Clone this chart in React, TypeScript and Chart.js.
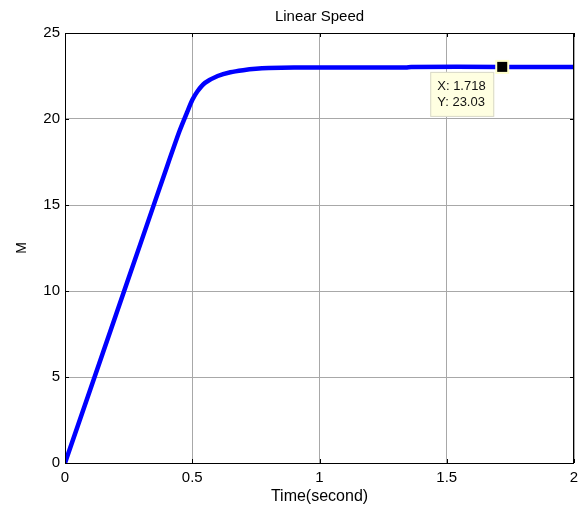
import React, { useEffect, useRef } from "react";
import { Chart, registerables } from "chart.js";

Chart.register(...registerables);

const timeValues = [0, 0.1, 0.2, 0.3, 0.4, 0.45, 0.48, 0.5, 0.52, 0.55, 0.6, 0.65, 0.7, 0.75, 0.8, 0.9, 1.0, 1.2, 1.34, 1.36, 1.718, 2.0];
const speedValues = [0, 4.3, 8.6, 12.9, 17.2, 19.3, 20.4, 21.1, 21.6, 22.1, 22.5, 22.72, 22.84, 22.92, 22.96, 22.99, 23.0, 23.0, 23.0, 23.03, 23.03, 23.03];
const dataTipX = 1.718;
const dataTipY = 23.03;
const xTicks = [0, 0.5, 1, 1.5, 2];
const yTicks = [0, 5, 10, 15, 20, 25];
const chartTitle = "Linear Speed";

const FONT = "'Liberation Sans', Arial, sans-serif";

const boxPlugin = {
  id: "matlabBox",
  afterDatasetsDraw(chart: any) {
    const { ctx, chartArea: a, scales } = chart;
    ctx.save();
    ctx.strokeStyle = "#000";
    ctx.lineWidth = 1;
    ctx.strokeRect(a.left + 0.5, a.top + 0.5, a.right - a.left - 1, a.bottom - a.top);
    ctx.beginPath();
    for (const t of xTicks) {
      const x = Math.round(scales.x.getPixelForValue(t)) + 0.5;
      ctx.moveTo(x, a.bottom); ctx.lineTo(x, a.bottom - 4);
      ctx.moveTo(x, a.top); ctx.lineTo(x, a.top + 4);
    }
    for (const t of yTicks) {
      const y = Math.round(scales.y.getPixelForValue(t)) + 0.5;
      ctx.moveTo(a.left, y); ctx.lineTo(a.left + 4, y);
      ctx.moveTo(a.right, y); ctx.lineTo(a.right - 4, y);
    }
    ctx.stroke();
    ctx.restore();
  },
  afterDraw(chart: any) {
    const { ctx, scales, chartArea: a } = chart;
    ctx.save();
    // title centred over the axes
    ctx.fillStyle = "#000";
    ctx.font = `15px ${FONT}`;
    ctx.textAlign = "center";
    ctx.textBaseline = "middle";
    ctx.fillText(chartTitle, (a.left + a.right) / 2, 17);

    const px = scales.x.getPixelForValue(dataTipX);
    const py = scales.y.getPixelForValue(dataTipY);
    const bx = px - 72;
    const by = py + 5;
    const bw = 64;
    const bh = 45;
    ctx.fillStyle = "#ffffe1";
    ctx.strokeStyle = "#d8d8c8";
    ctx.lineWidth = 1;
    ctx.fillRect(bx, by, bw, bh);
    ctx.strokeRect(bx + 0.5, by + 0.5, bw - 1, bh - 1);
    ctx.fillStyle = "#111";
    ctx.font = `13px ${FONT}`;
    ctx.textBaseline = "middle";
    ctx.textAlign = "left";
    ctx.fillText(`X: ${dataTipX}`, bx + 7, by + 15);
    ctx.fillText(`Y: ${dataTipY}`, bx + 7, by + 31);
    ctx.fillStyle = "#ffffcc";
    ctx.fillRect(px - 7, py - 7, 14, 14);
    ctx.fillStyle = "#000";
    ctx.fillRect(px - 5, py - 5, 10, 10);
    ctx.restore();
  },
};

export default function App() {
  const ref = useRef<HTMLCanvasElement>(null);
  useEffect(() => {
    document.body.style.margin = "0";
    const chart = new Chart(ref.current!, {
      type: "line",
      data: {
        datasets: [
          {
            data: timeValues.map((t, i) => ({ x: t, y: speedValues[i] })),
            borderColor: "#0000ff",
            borderWidth: 4.5,
            pointRadius: 0,
            tension: 0.2,
            fill: false,
          },
        ],
      },
      options: {
        animation: false,
        responsive: false,
        layout: { padding: { left: 0, right: 12, top: 33, bottom: 0 } },
        plugins: {
          legend: { display: false },
          tooltip: { enabled: false },
          title: { display: false },
        },
        scales: {
          x: {
            type: "linear",
            min: 0,
            max: 2,
            afterBuildTicks: (s: any) => { s.ticks = xTicks.map((v) => ({ value: v })); },
            afterFit: (s: any) => { s.height = 48; },
            grid: { color: "#a8a8a8", drawTicks: false, lineWidth: 1 },
            border: { display: false },
            ticks: {
              color: "#000",
              padding: 6,
              font: { family: FONT, size: 15 },
              callback: (v: any) => String(v),
              maxRotation: 0,
            },
            title: {
              display: true,
              text: "Time(second)",
              color: "#000",
              font: { family: FONT, size: 16 },
              padding: { top: 0, bottom: 5 },
            },
          },
          y: {
            type: "linear",
            min: 0,
            max: 25,
            afterBuildTicks: (s: any) => { s.ticks = yTicks.map((v) => ({ value: v })); },
            afterFit: (s: any) => { s.width = 65; },
            grid: { color: "#a8a8a8", drawTicks: false, lineWidth: 1 },
            border: { display: false },
            ticks: {
              color: "#000",
              padding: 5,
              font: { family: FONT, size: 15 },
              callback: (v: any) => String(v),
            },
            title: {
              display: true,
              text: "M",
              color: "#000",
              font: { family: FONT, size: 14 },
              padding: { top: 14, bottom: 0 },
            },
          },
        },
      },
      plugins: [boxPlugin],
    });
    return () => chart.destroy();
  }, []);
  return <canvas ref={ref} width={586} height={511} style={{ display: "block" }} />;
}
